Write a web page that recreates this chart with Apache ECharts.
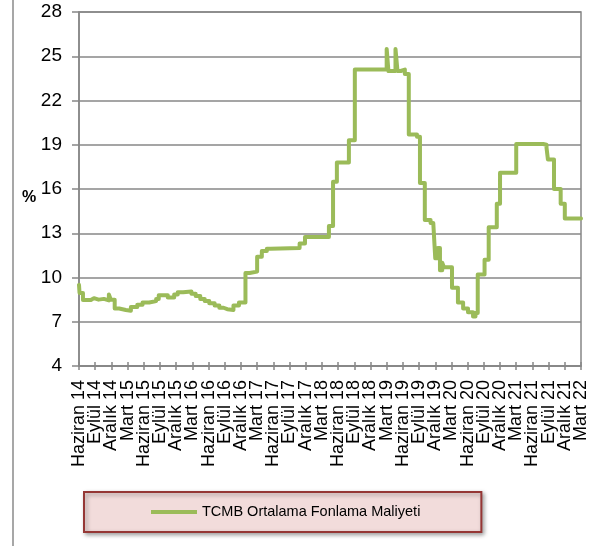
<!DOCTYPE html>
<html>
<head>
<meta charset="utf-8">
<script src="https://cdn.jsdelivr.net/npm/echarts@6/dist/echarts.min.js"></script>
<style>
    html, body { margin: 0; padding: 0; background: #fff; }
    #chart { width: 607px; height: 546px; }
</style>
</head>
<body>
<div id="chart"></div>
<script>
// etiketler (çeyrek dönemler)
var tickLabels = ['Haziran 14', 'Eylül 14', 'Aralık 14', 'Mart 15', 'Haziran 15', 'Eylül 15', 'Aralık 15', 'Mart 16',
    'Haziran 16', 'Eylül 16', 'Aralık 16', 'Mart 17', 'Haziran 17', 'Eylül 17', 'Aralık 17', 'Mart 18',
    'Haziran 18', 'Eylül 18', 'Aralık 18', 'Mart 19', 'Haziran 19', 'Eylül 19', 'Aralık 19', 'Mart 20',
    'Haziran 20', 'Eylül 20', 'Aralık 20', 'Mart 21', 'Haziran 21', 'Eylül 21', 'Aralık 21', 'Mart 22'];
var yTicks = [4, 7, 10, 13, 16, 19, 22, 25, 28];
var seriesName = 'TCMB Ortalama Fonlama Maliyeti';

// değişim tarihleri ve değerler (bir sonraki tarihe kadar geçerli)
var dates = ['2014-06-01', '2014-06-04', '2014-06-23', '2014-08-07', '2014-08-25', '2014-09-20', '2014-10-20',
    '2014-11-17', '2014-11-28', '2014-12-20', '2015-01-15', '2015-02-20', '2015-03-20', '2015-04-25',
    '2015-05-25', '2015-07-01', '2015-08-10', '2015-08-25', '2015-10-15', '2015-11-20', '2015-12-10',
    '2016-01-10', '2016-02-25', '2016-03-20', '2016-04-15', '2016-05-10', '2016-06-05', '2016-07-05',
    '2016-08-01', '2016-08-25', '2016-09-15', '2016-10-20', '2016-11-20',
    '2016-12-27', '2017-01-20', '2017-03-01', '2017-03-28', '2017-04-25',
    '2017-05-15', '2017-10-28', '2017-11-27', '2018-04-10', '2018-05-03', '2018-05-25', '2018-08-01',
    '2018-09-04', '2019-03-01', '2019-03-11', '2019-04-20', '2019-05-01', '2019-05-20', '2019-06-12',
    '2019-07-04', '2019-08-20', '2019-09-06', '2019-10-03', '2019-11-05', '2019-11-20', '2019-12-01',
    '2019-12-15', '2019-12-28', '2020-01-10', '2020-01-20', '2020-03-04', '2020-04-07', '2020-05-06',
    '2020-06-03', '2020-07-01', '2020-07-15', '2020-07-28', '2020-09-05', '2020-09-28', '2020-11-13',
    '2020-12-01', '2021-03-01', '2021-08-01', '2021-08-20', '2021-08-28', '2021-10-01', '2021-11-08',
    '2021-12-01', '2022-03-01'];
var values = [9.5, 8.95, 8.47, 8.6, 8.5, 8.55, 8.45,
    8.85, 8.5, 7.9, 7.8, 7.75, 8.0, 8.15,
    8.3, 8.4, 8.55, 8.8, 8.65, 8.85, 9.0,
    9.05, 8.9, 8.75, 8.55, 8.4, 8.25, 8.1,
    7.95, 7.85, 7.8, 8.1, 8.3,
    10.3, 10.4, 11.4, 11.8, 11.95,
    12.0, 12.3, 12.75, 13.5, 16.5, 17.8, 19.3,
    24.1, 25.5, 24.0, 25.5, 24.0, 24.1, 23.8,
    19.7, 19.55, 16.4, 13.9, 13.7, 13.8, 11.3,
    12.0, 10.5, 11.0, 10.7, 9.3, 8.3, 7.9,
    7.65, 7.35, 7.6, 10.2, 11.2, 13.4, 15.0,
    17.1, 19.05, 19.0, 18.8, 18.0, 16.0, 15.0,
    14.0, 14.0];

var fontName = 'Liberation Sans';
var axisGray = '#878787';

// Haziran 2014'ten itibaren ay sayısı
function monthIndex(s) {
    var p = s.split('-');
    var y = +p[0], m = +p[1], d = +p[2];
    var dim = new Date(y, m, 0).getDate();
    return (y - 2014) * 12 + (m - 6) + (d - 1) / dim;
}

var lineData = [];
for (var i = 0; i < dates.length; i++) {
    lineData.push([monthIndex(dates[i]), values[i]]);
}

var chart = echarts.init(document.getElementById('chart'));
var option = {
    animation: false,
    backgroundColor: '#fff',
    grid: {
        left: 79, right: 26, top: 12, bottom: 180,
        show: true, borderColor: axisGray, borderWidth: 1.5
    },
    graphic: [{
        type: 'line',
        shape: { x1: 13, y1: 0, x2: 13, y2: 546 },
        style: { stroke: '#8a8a8a', lineWidth: 1.5 }
    }, {
        type: 'text',
        left: 22, top: 190,
        style: { text: '%', fontFamily: fontName, fontSize: 16, fontWeight: 'bold', fill: '#000' }
    }],
    legend: {
        left: 84, top: 492,
        data: [seriesName],
        icon: 'rect',
        itemWidth: 46, itemHeight: 4,
        itemGap: 5,
        padding: [10, 61, 10, 67],
        backgroundColor: '#F2DCDB',
        borderColor: '#953735',
        borderWidth: 2,
        shadowBlur: 4,
        shadowColor: 'rgba(0,0,0,0.35)',
        shadowOffsetX: 2,
        shadowOffsetY: 2,
        textStyle: { fontFamily: fontName, fontSize: 14.5, color: '#000', lineHeight: 20 }
    },
    xAxis: [{
        // etiket ekseni
        type: 'category',
        data: tickLabels,
        boundaryGap: false,
        axisLine: { lineStyle: { color: axisGray, width: 1.5 } },
        axisTick: { show: true, interval: 0, length: 4, lineStyle: { color: axisGray, width: 1.5 } },
        splitLine: { show: false },
        axisLabel: {
            interval: 0, rotate: 90, margin: 14,
            fontFamily: fontName, fontSize: 18, color: '#000'
        }
    }, {
        // veri ekseni (ay)
        type: 'value', position: 'bottom',
        min: 0, max: (tickLabels.length - 1) * 3, interval: 3,
        axisLine: { show: false },
        axisTick: { show: true, inside: true, length: 4, lineStyle: { color: axisGray, width: 1.5 } },
        axisLabel: { show: false },
        splitLine: { show: false }
    }],
    yAxis: {
        type: 'value',
        min: yTicks[0], max: yTicks[yTicks.length - 1], interval: 3,
        axisLine: { show: true, lineStyle: { color: axisGray, width: 1.5 } },
        axisTick: { show: true, length: 7, lineStyle: { color: axisGray, width: 1.5 } },
        splitLine: { lineStyle: { color: axisGray, width: 1.5 } },
        axisLabel: { margin: 17, fontFamily: fontName, fontSize: 19, color: '#000' }
    },
    series: [{
        name: seriesName,
        type: 'line',
        xAxisIndex: 1,
        data: lineData,
        step: 'end',
        symbol: 'none',
        lineStyle: { color: '#9BBB59', width: 4, cap: 'round', join: 'round' },
        itemStyle: { color: '#9BBB59' }
    }]
};
chart.setOption(option);
</script>
</body>
</html>
